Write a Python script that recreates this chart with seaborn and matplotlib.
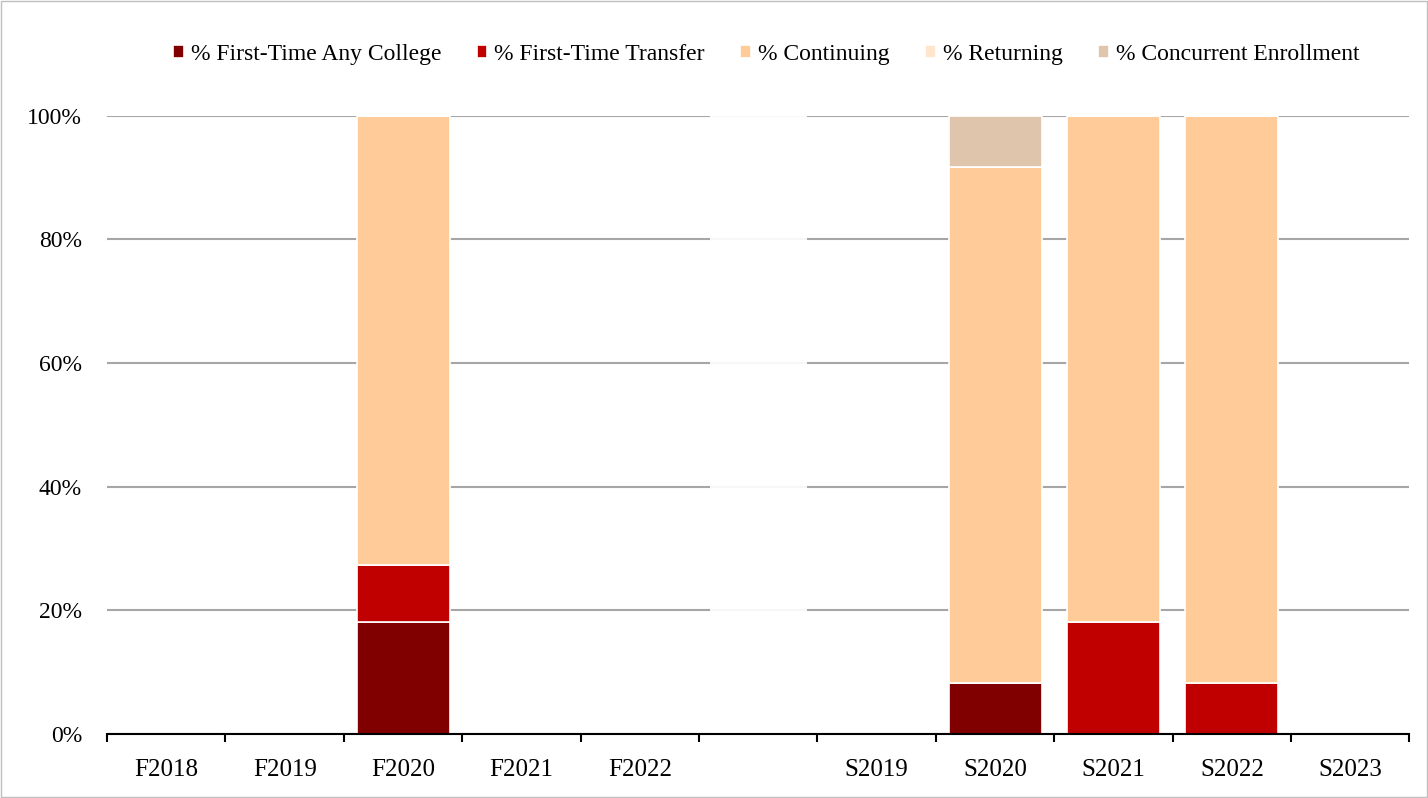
import numpy as np
import pandas as pd
import seaborn as sns
import matplotlib.pyplot as plt
from matplotlib.ticker import PercentFormatter

terms = ["F2018", "F2019", "F2020", "F2021", "F2022", "", "S2019", "S2020", "S2021", "S2022", "S2023"]
first_time_any = [0, 0, 0.182, 0, 0, 0, 0, 0.083, 0, 0, 0]
first_time_transfer = [0, 0, 0.091, 0, 0, 0, 0, 0, 0.182, 0.083, 0]
continuing = [0, 0, 0.727, 0, 0, 0, 0, 0.834, 0.818, 0.917, 0]
returning = [0, 0, 0, 0, 0, 0, 0, 0, 0, 0, 0]
concurrent = [0, 0, 0, 0, 0, 0, 0, 0.083, 0, 0, 0]
# blank spacer column between fall and spring terms
spacer = [0, 0, 0, 0, 0, 1, 0, 0, 0, 0, 0]

series = {
    "% First-Time Any College": first_time_any,
    "% First-Time Transfer": first_time_transfer,
    "% Continuing": continuing,
    "% Returning": returning,
    "% Concurrent Enrollment": concurrent,
}
colors = ["#800000", "#C00000", "#FFCC99", "#FFE5CC", "#DFC5AB"]

sns.set_theme(style="white")
plt.rcParams["font.family"] = ["Liberation Serif", "DejaVu Serif"]
plt.rcParams["text.color"] = "black"

fig = plt.figure(figsize=(14.28, 7.98), dpi=100)
ax = fig.add_axes([0.075, 0.080, 0.912, 0.775])

bottom = np.zeros(len(terms))
for (name, vals), c in zip(series.items(), colors):
    sns.barplot(x=np.arange(len(terms)), y=vals, bottom=bottom, color=c, width=0.785, saturation=1,
                edgecolor="white", linewidth=1.2, ax=ax, label=name, native_scale=True, zorder=3)
    bottom += np.array(vals)

ax.bar(np.arange(len(terms)), spacer, width=0.815, color="white", alpha=0.92, zorder=2.5, linewidth=0)

ax.set_xlim(-0.5, len(terms) - 0.5)
ax.set_ylim(0, 1)
ax.set_yticks(np.arange(0, 1.01, 0.2))
ax.yaxis.set_major_formatter(PercentFormatter(1.0, decimals=0))
ax.set_xticks(np.arange(len(terms)))
ax.set_xticklabels(terms)
ax.set_xticks(np.arange(-0.5, len(terms)), minor=True)
ax.tick_params(axis="x", which="major", length=0, labelsize=18, pad=18, labelcolor="black")
ax.tick_params(axis="x", which="minor", length=6, width=1.5, direction="out", color="black", bottom=True)
ax.tick_params(axis="y", length=0, labelsize=17, pad=18, labelcolor="black")
ax.grid(axis="y", color="#A6A6A6", linewidth=1.5, zorder=0)
ax.set_axisbelow(True)
for s in ["top", "right", "left"]:
    ax.spines[s].set_visible(False)
ax.spines["bottom"].set_color("black")
ax.spines["bottom"].set_linewidth(1.5)
ax.spines["bottom"].set_zorder(5)
ax.set_xlabel("")
ax.set_ylabel("")

handles, labels = ax.get_legend_handles_labels()
leg = ax.legend(handles, labels, loc="upper center", bbox_to_anchor=(0.506, 1.15), ncol=5, frameon=False,
                fontsize=17, handlelength=0.45, handleheight=0.45, handletextpad=0.3, columnspacing=1.5)
for t in leg.get_texts():
    t.set_color("black")

fig.patches.append(plt.Rectangle((0.001, 0.001), 0.998, 0.998, transform=fig.transFigure,
                                 fill=False, edgecolor="#BFBFBF", linewidth=1))

fig.savefig("out.png", dpi=100)
